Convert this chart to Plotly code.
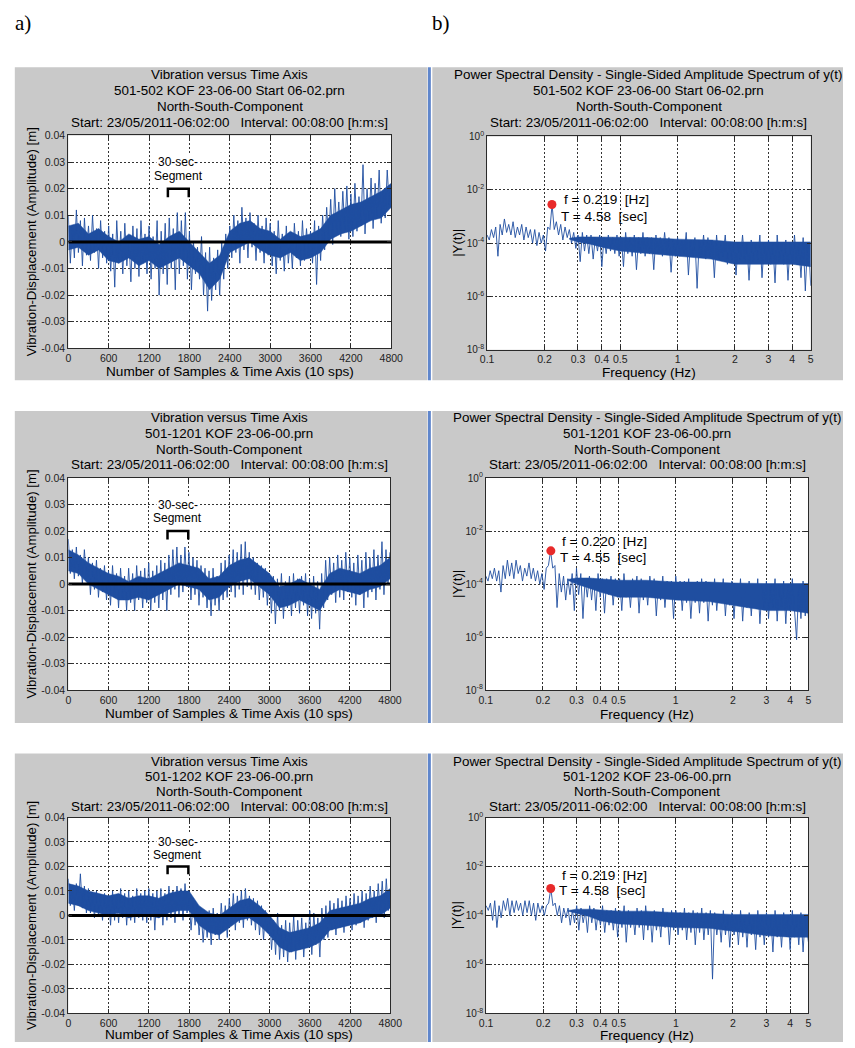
import plotly.graph_objects as go

W, H = 855, 1048

# ---------------- DATA ----------------
# time series: sample index (10 sps) (hi/lo alternating)
ts_samples = list(range(0, 4801, 30))

ts1 = [0.010,-0.008, 0.006,-0.006, 0.012,-0.004, 0.008,-0.009, 0.009,-0.005, 0.006,-0.007, 0.010,-0.004, 0.005,-0.010, 0.008,-0.006, 0.004,-0.008,
       0.006,-0.011, 0.003,-0.017, 0.008,-0.008, 0.004,-0.012, 0.007,-0.009, 0.002,-0.015, 0.006,-0.010, 0.005,-0.013, 0.008,-0.008, 0.003,-0.012,
       0.006,-0.014, 0.002,-0.010, 0.008,-0.020, 0.004,-0.012, 0.007,-0.016, 0.009,-0.010, 0.005,-0.018, 0.011,-0.012, 0.008,-0.009, 0.011,-0.014,
       0.004,-0.018, 0.000,-0.012, -0.002,-0.014, 0.002,-0.020, -0.004,-0.026, -0.002,-0.022, -0.006,-0.018, -0.003,-0.020, 0.000,-0.014, 0.003,-0.010,
       0.006,-0.006, 0.010,-0.004, 0.008,-0.008, 0.013,-0.003, 0.009,-0.006, 0.011,-0.002, 0.007,-0.007, 0.010,-0.004, 0.006,-0.008, 0.009,-0.005,
       0.007,-0.009, 0.004,-0.012, 0.008,-0.007, 0.003,-0.011, 0.006,-0.008, 0.002,-0.010, 0.007,-0.006, 0.004,-0.009, 0.008,-0.007, 0.005,-0.005,
       0.004,-0.008, 0.008,-0.016, 0.006,-0.007, 0.010,-0.003, 0.013,0.000, 0.016,-0.001, 0.020,0.003, 0.015,0.002, 0.019,0.004, 0.021,0.001,
       0.018,0.002, 0.022,0.004, 0.017,0.006, 0.029,0.003, 0.020,0.008, 0.024,0.005, 0.022,0.010, 0.027,0.007, 0.019,0.009, 0.027,0.014,
       0.020]

ts2 = [0.017,0.004, 0.013,0.002, 0.014,0.003, 0.011,0.000, 0.013,0.002, 0.010,-0.004, 0.008,-0.002, 0.009,-0.005, 0.006,-0.003, 0.007,-0.006,
       0.005,-0.008, 0.007,-0.005, 0.004,-0.009, 0.006,-0.006, 0.003,-0.010, 0.006,-0.007, 0.004,-0.010, 0.007,-0.006, 0.005,-0.009, 0.006,-0.007,
       0.008,-0.010, 0.005,-0.007, 0.007,-0.009, 0.009,-0.006, 0.008,-0.010, 0.011,-0.004, 0.013,-0.002, 0.014,-0.005, 0.011,-0.003, 0.014,-0.001,
       0.012,-0.006, 0.010,-0.004, 0.009,-0.008, 0.007,-0.005, 0.006,-0.009, 0.005,-0.012, 0.006,-0.008, 0.003,-0.010, 0.008,-0.006, 0.009,-0.005,
       0.011,-0.003, 0.013,-0.005, 0.012,-0.002, 0.015,-0.004, 0.016,-0.001, 0.012,-0.002, 0.010,-0.004, 0.008,-0.006, 0.007,-0.005, 0.006,-0.008,
       0.004,-0.011, 0.003,-0.015, 0.002,-0.010, 0.004,-0.013, 0.001,-0.009, 0.003,-0.012, 0.004,-0.009, 0.002,-0.011, 0.003,-0.008, 0.004,-0.012,
       0.002,-0.013, 0.003,-0.011, 0.001,-0.017, 0.004,-0.009, 0.009,-0.006, 0.010,-0.004, 0.008,-0.007, 0.011,-0.005, 0.009,-0.006, 0.012,-0.003,
       0.010,-0.005, 0.008,-0.008, 0.011,-0.004, 0.009,-0.009, 0.012,-0.005, 0.010,-0.003, 0.013,-0.006, 0.011,-0.002, 0.016,-0.004, 0.013,0.000,
       0.012]

ts3 = [0.015,0.004, 0.012,0.002, 0.013,0.004, 0.017,0.003, 0.012,0.001, 0.011,0.001, 0.009,-0.001, 0.010,0.000, 0.008,-0.002, 0.009,0.000,
       0.008,-0.004, 0.010,-0.002, 0.008,-0.003, 0.011,-0.001, 0.009,-0.004, 0.010,-0.002, 0.008,-0.003, 0.011,-0.001, 0.009,-0.002, 0.010,-0.003,
       0.011,-0.002, 0.009,-0.006, 0.010,-0.001, 0.011,-0.004, 0.009,-0.002, 0.012,-0.001, 0.010,-0.003, 0.012,0.000, 0.011,-0.002, 0.013,0.001,
       0.007,-0.006, 0.005,-0.004, 0.004,-0.008, 0.002,-0.011, 0.001,-0.009, 0.002,-0.012, 0.003,-0.008, 0.001,-0.010, 0.005,-0.006, 0.004,-0.009,
       0.007,-0.004, 0.009,-0.006, 0.008,-0.003, 0.010,-0.005, 0.011,-0.002, 0.008,-0.004, 0.007,-0.006, 0.006,-0.008, 0.004,-0.010, 0.002,-0.007,
       0.000,-0.014, -0.002,-0.016, 0.001,-0.018, -0.004,-0.017, -0.002,-0.019, -0.003,-0.015, 0.000,-0.018, -0.002,-0.014, -0.001,-0.017, -0.003,-0.013,
       0.002,-0.016, 0.001,-0.012, -0.001,-0.017, 0.003,-0.010, 0.004,-0.009, 0.006,-0.006, 0.005,-0.008, 0.007,-0.005, 0.006,-0.007, 0.008,-0.004,
       0.007,-0.006, 0.009,-0.004, 0.008,-0.003, 0.010,-0.005, 0.009,-0.002, 0.012,-0.001, 0.010,-0.003, 0.013,0.001, 0.014,-0.001, 0.015,0.002,
       0.010]

# dense (solid) core of each trace, read every 150 samples
core_samples = [0, 150, 300, 450, 600, 750, 900, 1050, 1200, 1350, 1500, 1650, 1800, 1950, 2100, 2250, 2400,
                2550, 2700, 2850, 3000, 3150, 3300, 3450, 3600, 3750, 3900, 4050, 4200, 4350, 4500, 4650, 4800]
ts1_core_hi = [0.006, 0.007, 0.003, 0.005, 0.002, 0.000, 0.003, 0.001, 0.002, -0.001, 0.002, 0.004, 0.000, -0.004, -0.008, -0.005, 0.004,
               0.007, 0.008, 0.005, 0.004, 0.001, 0.004, 0.002, 0.003, 0.005, 0.010, 0.012, 0.014, 0.015, 0.017, 0.019, 0.022]
ts1_core_lo = [-0.003, -0.002, -0.005, -0.003, -0.007, -0.008, -0.006, -0.009, -0.007, -0.010, -0.008, -0.006, -0.009, -0.012, -0.018, -0.014, -0.004,
               -0.002, 0.000, -0.003, -0.005, -0.006, -0.004, -0.007, -0.006, -0.004, 0.001, 0.003, 0.004, 0.006, 0.008, 0.009, 0.013]
ts2_core_hi = [0.013, 0.011, 0.008, 0.006, 0.004, 0.003, 0.001, 0.003, 0.002, 0.004, 0.006, 0.008, 0.007, 0.006, 0.002, 0.003, 0.007,
               0.009, 0.010, 0.007, 0.004, -0.001, 0.000, 0.002, 0.000, -0.002, 0.004, 0.006, 0.005, 0.004, 0.006, 0.007, 0.010]
ts2_core_lo = [0.005, 0.004, 0.000, -0.002, -0.004, -0.006, -0.006, -0.005, -0.006, -0.004, -0.002, 0.000, -0.001, -0.002, -0.006, -0.005, -0.001,
               0.001, 0.002, -0.001, -0.004, -0.009, -0.008, -0.006, -0.008, -0.010, -0.004, -0.002, -0.003, -0.004, -0.002, -0.001, 0.002]
ts3_core_hi = [0.013, 0.012, 0.010, 0.009, 0.008, 0.009, 0.007, 0.008, 0.008, 0.007, 0.009, 0.010, 0.010, 0.004, 0.001, 0.000, 0.003,
               0.006, 0.007, 0.004, 0.000, -0.005, -0.007, -0.006, -0.005, -0.003, 0.002, 0.003, 0.004, 0.005, 0.007, 0.008, 0.011]
ts3_core_lo = [0.005, 0.004, 0.002, 0.001, 0.000, 0.001, -0.001, 0.000, 0.000, -0.001, 0.001, 0.002, 0.002, -0.004, -0.007, -0.008, -0.005,
               -0.002, -0.001, -0.004, -0.008, -0.013, -0.015, -0.014, -0.013, -0.011, -0.006, -0.005, -0.004, -0.003, -0.001, 0.000, 0.003]

zero_level = [0.0, 0.0]

# spectra: frequency (Hz) and |Y|
freq = [0.1000, 0.1027, 0.1054, 0.1082, 0.1110, 0.1140, 0.1170, 0.1201, 0.1233, 0.1266,
        0.1299, 0.1334, 0.1369, 0.1405, 0.1443, 0.1481, 0.1520, 0.1560, 0.1602, 0.1644,
        0.1688, 0.1733, 0.1779, 0.1826, 0.1874, 0.1924, 0.1975, 0.2027, 0.2081, 0.2136,
        0.2193, 0.2251, 0.2311, 0.2372, 0.2435, 0.2499, 0.2566, 0.2634, 0.2703, 0.2775,
        0.2849, 0.2924, 0.3002, 0.3081, 0.3163, 0.3247, 0.3333, 0.3421, 0.3512, 0.3605,
        0.3700, 0.3798, 0.3899, 0.4003, 0.4109, 0.4218, 0.4329, 0.4444, 0.4562, 0.4683,
        0.4807, 0.4934, 0.5065, 0.5199, 0.5337, 0.5479, 0.5624, 0.5773, 0.5926, 0.6083,
        0.6245, 0.6410, 0.6580, 0.6754, 0.6933, 0.7117, 0.7306, 0.7499, 0.7698, 0.7902,
        0.8112, 0.8327, 0.8547, 0.8774, 0.9006, 0.9245, 0.9490, 0.9742, 1.000, 1.027,
        1.054, 1.082, 1.110, 1.140, 1.170, 1.201, 1.233, 1.266, 1.299, 1.334,
        1.369, 1.405, 1.443, 1.481, 1.520, 1.560, 1.602, 1.644, 1.688, 1.733,
        1.779, 1.826, 1.874, 1.924, 1.975, 2.027, 2.081, 2.136, 2.193, 2.251,
        2.311, 2.372, 2.435, 2.499, 2.566, 2.634, 2.703, 2.775, 2.849, 2.924,
        3.002, 3.081, 3.163, 3.247, 3.333, 3.421, 3.512, 3.605, 3.700, 3.798,
        3.899, 4.003, 4.109, 4.218, 4.329, 4.444, 4.562, 4.683, 4.807, 4.934,
        5.000]

psd1 = [2e-4, 1.3e-4, 3.2e-4, 1.6e-4, 4e-4, 3.2e-5, 5e-4, 2e-4, 8e-4, 2.5e-4,
        5e-4, 2e-4, 6.3e-4, 1.6e-4, 4e-4, 2e-4, 5e-4, 1.3e-4, 4e-4, 1.6e-4,
        3.2e-4, 1e-4, 3.2e-4, 8e-5, 2.5e-4, 1e-4, 2e-4, 5e-5, 4e-4, 3.2e-4,
        2.8e-3, 3.2e-4, 6.3e-4, 2e-4, 5e-4, 1.3e-4, 4e-4, 1.6e-4, 3.2e-4, 1e-4,
        2.5e-4, 6.3e-5, 2e-4, 2e-5, 2.5e-4, 5e-5, 2e-4, 4e-5, 2e-4, 2.5e-5,
        1.6e-4, 5e-5, 2e-4, 1.3e-5, 1.6e-4, 4e-5, 2e-4, 5e-5, 1.6e-4, 4e-5,
        2e-4, 3.2e-5, 1.6e-4, 1.3e-5, 2.5e-4, 4e-5, 1.6e-4, 3.2e-5, 2e-4, 1e-5,
        1.6e-4, 4e-5, 2.5e-4, 3.2e-5, 1.6e-4, 4e-5, 1.6e-4, 1e-5, 2e-4, 4e-5,
        1.6e-4, 3.2e-5, 2.5e-4, 4e-5, 1.6e-4, 8e-6, 1.3e-4, 3.2e-5, 1.6e-4, 3.2e-5,
        1.3e-4, 4e-5, 2.5e-4, 6.3e-6, 1.3e-4, 3.2e-5, 1.6e-4, 2e-6, 1.3e-4, 3.2e-5,
        2e-4, 2.5e-5, 1.6e-4, 3.2e-5, 1.3e-4, 5e-6, 2e-4, 2.5e-5, 1e-4, 3.2e-5,
        2e-4, 1.6e-5, 1e-4, 2.5e-5, 1e-4, 6.3e-6, 1e-4, 2.5e-5, 2e-4, 2e-5,
        1e-4, 4e-6, 1.3e-4, 2e-5, 1e-4, 2.5e-5, 2e-4, 5e-6, 1e-4, 2e-5,
        1.3e-4, 1.6e-5, 1e-4, 3.2e-6, 2e-4, 2e-5, 1e-4, 1.6e-5, 1.3e-4, 4e-6,
        1e-4, 2e-5, 2e-4, 1.6e-5, 1e-4, 5e-6, 1.6e-4, 1.6e-6, 1e-4, 1.6e-5,
        2.5e-6]

psd2 = [2e-4, 1.3e-4, 3.2e-4, 1.6e-4, 4e-4, 1.3e-4, 3.2e-4, 5e-5, 5e-4, 1.6e-4,
        8e-4, 2e-4, 6.3e-4, 1.6e-4, 8e-4, 2.5e-4, 5e-4, 1.3e-4, 4e-4, 2e-4,
        6.3e-4, 1.6e-4, 4e-4, 1.3e-4, 3.2e-4, 1e-4, 2.5e-4, 6.3e-5, 4e-4, 5e-4,
        1.8e-3, 4e-4, 5e-4, 1.3e-5, 2.5e-4, 5e-5, 2e-4, 2.5e-5, 1.6e-4, 4e-5,
        2.5e-4, 1e-5, 4e-4, 4e-5, 2.5e-4, 5e-6, 1.6e-4, 3.2e-5, 2e-4, 2.5e-5,
        1.6e-4, 1e-5, 2.5e-4, 3.2e-5, 1.6e-4, 8e-6, 1.6e-4, 4e-5, 2e-4, 1.6e-5,
        1.6e-4, 3.2e-5, 1.6e-4, 1e-5, 2.5e-4, 3.2e-5, 1.3e-4, 1.3e-5, 1.6e-4, 4e-5,
        2e-4, 8e-6, 1.6e-4, 2.5e-5, 1.3e-4, 1.6e-5, 2e-4, 3.2e-5, 1.6e-4, 6.3e-6,
        1.3e-4, 2.5e-5, 2e-4, 1.3e-5, 1.3e-4, 3.2e-5, 1.3e-4, 5e-6, 2e-4, 2.5e-5,
        1.3e-4, 1e-5, 1.3e-4, 2e-5, 1.6e-4, 5e-6, 1e-4, 2e-5, 1.3e-4, 8e-6,
        1.6e-4, 2e-5, 1.3e-4, 4e-6, 1e-4, 1.6e-5, 1.6e-4, 1e-5, 1e-4, 2e-5,
        1.6e-4, 6.3e-6, 1e-4, 1.6e-5, 1.3e-4, 5e-6, 1e-4, 1.6e-5, 1.6e-4, 4e-6,
        1e-4, 1.3e-5, 1.3e-4, 6.3e-6, 1e-4, 1.3e-5, 1.6e-4, 3.2e-6, 1e-4, 1.3e-5,
        1.3e-4, 5e-6, 1e-4, 1.3e-5, 1.6e-4, 4e-6, 1e-4, 1.3e-5, 1.3e-4, 3.2e-6,
        1e-4, 1e-5, 1.6e-4, 1e-5, 8e-7, 1e-4, 5e-6, 1.3e-4, 6.3e-6, 8e-5,
        5e-6]

psd3 = [2.5e-4, 1.6e-4, 3.2e-4, 6.3e-5, 4e-4, 3.2e-5, 2.5e-4, 8e-5, 4e-4, 1.6e-4,
        5e-4, 1e-4, 4e-4, 1.3e-4, 4e-4, 1.6e-4, 3.2e-4, 1e-4, 4e-4, 1.3e-4,
        4e-4, 1e-4, 3.2e-4, 6.3e-5, 3.2e-4, 1.3e-4, 2.5e-4, 1e-4, 2.5e-4, 3.2e-4,
        1.26e-3, 2.5e-4, 3.2e-4, 1e-4, 2.5e-4, 5e-5, 2e-4, 8e-5, 2e-4, 4e-5,
        1.6e-4, 5e-5, 2.5e-4, 2.5e-5, 2e-4, 5e-5, 1.6e-4, 2e-5, 2.5e-4, 5e-5,
        2e-4, 2.5e-5, 1.6e-4, 4e-5, 2.5e-4, 2e-5, 1.6e-4, 4e-5, 1.6e-4, 2.5e-5,
        2e-4, 1.3e-5, 1.6e-4, 3.2e-5, 2.5e-4, 8e-6, 1.6e-4, 3.2e-5, 1.3e-4, 1.6e-5,
        2e-4, 3.2e-5, 1.6e-4, 1e-5, 2.5e-4, 2.5e-5, 1.3e-4, 8e-6, 1.6e-4, 2.5e-5,
        1.3e-4, 1.3e-5, 2e-4, 3.2e-5, 1.3e-4, 6.3e-6, 1.6e-4, 2.5e-5, 1.6e-4, 1.6e-5,
        1.3e-4, 2.5e-5, 2e-4, 1e-5, 1.3e-4, 2e-5, 1.6e-4, 6.3e-6, 1.3e-4, 2e-5,
        2e-4, 1e-5, 1.3e-4, 1.6e-5, 1.6e-4, 2.5e-7, 1.3e-4, 1.6e-5, 1e-4, 8e-6,
        1.6e-4, 1.6e-5, 1e-4, 5e-6, 1.3e-4, 1.6e-5, 1e-4, 6.3e-6, 1.6e-4, 1.3e-5,
        1e-4, 5e-6, 1.3e-4, 1.6e-5, 1e-4, 4e-6, 1.6e-4, 1.3e-5, 1e-4, 6.3e-6,
        1.3e-4, 1.3e-5, 1e-4, 3.2e-6, 1.6e-4, 1.3e-5, 1e-4, 5e-6, 1.3e-4, 1.6e-5,
        1e-4, 4e-6, 1.6e-4, 1.3e-5, 1e-4, 6.3e-6, 1.3e-4, 3.2e-6, 1e-4, 1.3e-5,
        8e-6]

# dense (solid) band of each spectrum
core_freq = [0.27, 0.3, 0.35, 0.4, 0.5, 0.7, 1.0, 1.5, 2.0, 3.0, 4.0, 5.0]
psd1_core_hi = [1.5e-4, 1.7e-4, 1.7e-4, 1.7e-4, 1.7e-4, 1.6e-4, 1.4e-4, 1.3e-4, 1.1e-4, 1.1e-4, 1.1e-4, 1.1e-4]
psd1_core_lo = [1.4e-4, 1.1e-4, 9e-5, 7e-5, 5e-5, 4e-5, 3.2e-5, 2.5e-5, 1.6e-5, 1.6e-5, 1.6e-5, 1.3e-5]
psd2_core_hi = [1.5e-4, 1.7e-4, 1.7e-4, 1.6e-4, 1.4e-4, 1.4e-4, 1.2e-4, 1.2e-4, 1.1e-4, 1.05e-4, 1.05e-4, 1.05e-4]
psd2_core_lo = [1.4e-4, 1e-4, 7e-5, 5e-5, 3.2e-5, 3.2e-5, 2.5e-5, 2.2e-5, 1.6e-5, 1e-5, 1e-5, 8e-6]
psd3_core_hi = [1.6e-4, 1.8e-4, 1.8e-4, 1.7e-4, 1.5e-4, 1.5e-4, 1.3e-4, 1.2e-4, 1.1e-4, 1.1e-4, 1.1e-4, 1.1e-4]
psd3_core_lo = [1.5e-4, 1.2e-4, 9e-5, 6e-5, 4.5e-5, 4e-5, 3.2e-5, 3e-5, 2.2e-5, 1.5e-5, 1.3e-5, 1.3e-5]

peak_f = [0.219, 0.220, 0.219]
peak_amp = [2.8e-3, 1.8e-3, 1.26e-3]
peak_T = ["4.58", "4.55", "4.58"]

ts_xticks = [0, 600, 1200, 1800, 2400, 3000, 3600, 4200, 4800]
ts_yticks = [-0.04, -0.03, -0.02, -0.01, 0, 0.01, 0.02, 0.03, 0.04]
ts_ytext = ["-0.04", "-0.03", "-0.02", "-0.01", "0", "0.01", "0.02", "0.03", "0.04"]
psd_xticks = [0.1, 0.2, 0.3, 0.4, 0.5, 1, 2, 3, 4, 5]
psd_xtext = ["0.1", "0.2", "0.3", "0.4", "0.5", "1", "2", "3", "4", "5"]
psd_yticks = [1e-8, 1e-6, 1e-4, 1e-2, 1]
psd_ytext = ["10<sup>-8</sup>", "10<sup>-6</sup>", "10<sup>-4</sup>", "10<sup>-2</sup>", "10<sup>0</sup>"]

files = ["501-502 KOF 23-06-00 Start 06-02.prn", "501-1201 KOF 23-06-00.prn", "501-1202 KOF 23-06-00.prn"]
ts_series = [ts1, ts2, ts3]
ts_cores = [(ts1_core_hi, ts1_core_lo), (ts2_core_hi, ts2_core_lo), (ts3_core_hi, ts3_core_lo)]
psd_series = [psd1, psd2, psd3]
psd_cores = [(psd1_core_hi, psd1_core_lo), (psd2_core_hi, psd2_core_lo), (psd3_core_hi, psd3_core_lo)]

# ---------------- LAYOUT ----------------
FONT = "Liberation Sans"
SIG = "#1f4ea0"
GREY = "#c9c9c9"
NB = "\u00a0"

def px(x):
    return x / W

def py(y):
    return 1 - y / H

rows = [(61, 378), (409, 725), (756, 1048)]
ts_boxes = [(62.7, 393, 130, 345.7), (62.7, 391.7, 477, 691.7), (62.7, 392, 820.7, 1019)]
psd_boxes = [(491, 822, 131, 347), (489.7, 819.7, 477, 691.7), (490, 819.7, 820.7, 1019)]
title_y = [(68.3, 84.5, 100.7, 116.7), (415.7, 431.7, 447.7, 463.5), (764, 779.5, 794.5, 809.5)]
xlabel_y = [369.5, 715, 1040.5]

fig = go.Figure()
shapes = []
annotations = []

for (r0, r1) in rows:
    shapes.append(dict(type="rect", xref="paper", yref="paper", x0=px(8), x1=px(430), y0=py(r1), y1=py(r0),
                       fillcolor=GREY, line=dict(width=0), layer="below"))
    shapes.append(dict(type="rect", xref="paper", yref="paper", x0=px(435), x1=px(855), y0=py(r1), y1=py(r0),
                       fillcolor=GREY, line=dict(width=0), layer="below"))
    shapes.append(dict(type="rect", xref="paper", yref="paper", x0=px(430.5), x1=px(433.5), y0=py(r1), y1=py(r0),
                       fillcolor="#5f86cc", line=dict(width=0), layer="below"))

def txt(x, y, s, size, xanchor="center", angle=0, family=FONT):
    annotations.append(dict(x=px(x), y=py(y), xref="paper", yref="paper", text=s, showarrow=False,
                            xanchor=xanchor, yanchor="middle", textangle=angle,
                            font=dict(family=family, size=size, color="#000")))

axis_common = dict(showline=True, linecolor="#2a2a2a", linewidth=1, mirror="ticks", ticks="inside",
                   ticklen=4, tickcolor="#2a2a2a", showgrid=True, gridcolor="#333333", griddash="2px,2px",
                   gridwidth=1, zeroline=False,
                   tickfont=dict(family=FONT, size=10.5, color="#222"))

layout_axes = {}
for r in range(3):
    k_ts = 2 * r + 1
    k_ps = 2 * r + 2
    x0, x1, y0, y1 = ts_boxes[r]
    shapes.append(dict(type="rect", xref="paper", yref="paper", x0=px(x0), x1=px(x1), y0=py(y1), y1=py(y0),
                       fillcolor="white", line=dict(width=0), layer="below"))
    xa = "xaxis" if k_ts == 1 else f"xaxis{k_ts}"
    ya = "yaxis" if k_ts == 1 else f"yaxis{k_ts}"
    xn = "x" if k_ts == 1 else f"x{k_ts}"
    yn = "y" if k_ts == 1 else f"y{k_ts}"
    layout_axes[xa] = dict(axis_common, domain=[px(x0), px(x1)], anchor=yn, range=[0, 4800],
                           tickvals=ts_xticks, ticktext=[str(v) for v in ts_xticks])
    layout_axes[ya] = dict(axis_common, domain=[py(y1), py(y0)], anchor=xn, range=[-0.04, 0.04],
                           tickvals=ts_yticks, ticktext=ts_ytext)
    c_hi, c_lo = ts_cores[r]
    fig.add_trace(go.Scatter(x=core_samples + core_samples[::-1], y=c_hi + c_lo[::-1], mode="lines",
                             fill="toself", fillcolor=SIG, line=dict(width=0.5, color=SIG),
                             xaxis=xn, yaxis=yn, hoverinfo="skip"))
    fig.add_trace(go.Scatter(x=ts_samples, y=ts_series[r], mode="lines", line=dict(color=SIG, width=0.9),
                             xaxis=xn, yaxis=yn, hoverinfo="skip"))
    fig.add_trace(go.Scatter(x=[ts_xticks[0], ts_xticks[-1]], y=zero_level, mode="lines",
                             line=dict(color="black", width=3), xaxis=xn, yaxis=yn, hoverinfo="skip"))
    # bracket marking the 30-sec segment (with white backing like the original text box)
    shapes.append(dict(type="rect", xref=xn, yref=yn, x0=1340, x1=1960, y0=0.0175, y1=0.0222,
                       fillcolor="white", line=dict(width=0), layer="above"))
    shapes.append(dict(type="path", xref=xn, yref=yn,
                       path="M 1480,0.0168 L 1480,0.0200 L 1790,0.0200 L 1790,0.0168",
                       line=dict(color="black", width=2.5), layer="above"))
    annotations.append(dict(x=1635, y=0.0300, xref=xn, yref=yn, text="30-sec-", showarrow=False,
                            bgcolor="white", borderpad=1,
                            font=dict(family=FONT, size=12, color="#000"), yanchor="middle"))
    annotations.append(dict(x=1635, y=0.0248, xref=xn, yref=yn, text="Segment", showarrow=False,
                            bgcolor="white", borderpad=1,
                            font=dict(family=FONT, size=12, color="#000"), yanchor="middle"))
    cx = (x0 + x1) / 2
    tl = ["Vibration versus Time Axis", files[r], "North-South-Component",
          f"Start: 23/05/2011-06:02:00{NB*3}Interval: 00:08:00 [h:m:s]"]
    for line, yy in zip(tl, title_y[r]):
        txt(cx, yy, line, 13.4)
    txt(cx, xlabel_y[r], "Number of Samples &amp; Time Axis (10 sps)", 13.6)
    txt(25, (y0 + y1) / 2, "Vibration-Displacement (Amplitude) [m]", 13.2, angle=-90)

    # spectrum
    x0, x1, y0, y1 = psd_boxes[r]
    shapes.append(dict(type="rect", xref="paper", yref="paper", x0=px(x0), x1=px(x1), y0=py(y1), y1=py(y0),
                       fillcolor="white", line=dict(width=0), layer="below"))
    xa = f"xaxis{k_ps}"
    ya = f"yaxis{k_ps}"
    xn = f"x{k_ps}"
    yn = f"y{k_ps}"
    layout_axes[xa] = dict(axis_common, domain=[px(x0), px(x1)], anchor=yn, type="log", range=[-1, 0.69897],
                           tickvals=psd_xticks, ticktext=psd_xtext)
    layout_axes[ya] = dict(axis_common, domain=[py(y1), py(y0)], anchor=xn, type="log", range=[-8, 0],
                           tickvals=psd_yticks, ticktext=psd_ytext,
                           tickfont=dict(family=FONT, size=10, color="#222"))
    p_hi, p_lo = psd_cores[r]
    fig.add_trace(go.Scatter(x=core_freq + core_freq[::-1], y=p_hi + p_lo[::-1], mode="lines",
                             fill="toself", fillcolor=SIG, line=dict(width=0.5, color=SIG),
                             xaxis=xn, yaxis=yn, hoverinfo="skip"))
    fig.add_trace(go.Scatter(x=freq, y=psd_series[r], mode="lines", line=dict(color=SIG, width=0.9),
                             xaxis=xn, yaxis=yn, hoverinfo="skip"))
    fig.add_trace(go.Scatter(x=[peak_f[r]], y=[peak_amp[r]], mode="markers",
                             marker=dict(color="#e82a2a", size=9), xaxis=xn, yaxis=yn, hoverinfo="skip"))
    cx = (x0 + x1) / 2
    tl = ["Power Spectral Density - Single-Sided Amplitude Spectrum of y(t)", files[r], "North-South-Component",
          f"Start: 23/05/2011-06:02:00{NB*3}Interval: 00:08:00 [h:m:s]"]
    for line, yy in zip(tl, title_y[r]):
        txt(cx, yy, line, 13.4)
    txt(cx, xlabel_y[r] + 1, "Frequency (Hz)", 13.6)
    txt(460, (y0 + y1) / 2, "|Y(t)|", 13.2, angle=-90)

# peak annotations (pixel positions)
peak_txt_pos = [((568, 195), (565, 212)), ((566, 541.7), (564, 557.7)), ((566, 879.3), (563, 895))]
for r in range(3):
    (fx, fy), (tx, ty) = peak_txt_pos[r]
    txt(fx, fy, f"f = {peak_f[r]:.3f}{NB*2}[Hz]", 13.6, xanchor="left")
    txt(tx, ty, f"T = {peak_T[r]}{NB*2}[sec]", 13.6, xanchor="left")

txt(6, 16, "a)", 21, xanchor="left", family="Liberation Serif")
txt(433, 16, "b)", 21, xanchor="left", family="Liberation Serif")

fig.update_layout(width=W, height=H, margin=dict(l=0, r=0, t=0, b=0), showlegend=False,
                  paper_bgcolor="white", plot_bgcolor="rgba(0,0,0,0)",
                  shapes=shapes, annotations=annotations, **layout_axes)

fig.write_html("out.html", config={"displayModeBar": False},
               post_script="document.body.style.margin='0px';document.body.style.overflow='hidden';")
